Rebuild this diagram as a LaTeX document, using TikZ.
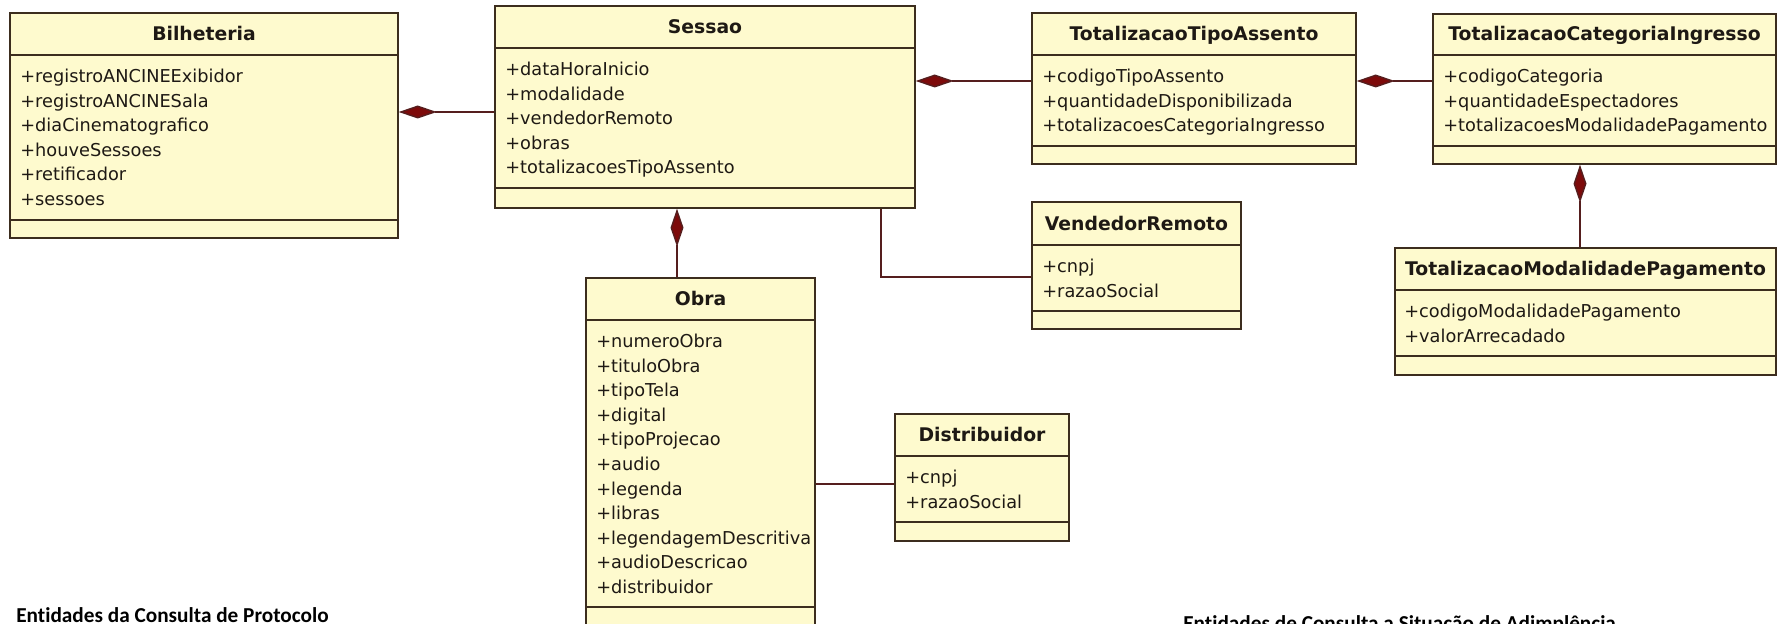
\documentclass[tikz,border=0pt]{standalone}
\usepackage{fontspec}
\setmainfont{DejaVu Sans}
\newfontfamily\capfont[Ligatures=NoCommon]{Carlito}
\usetikzlibrary{arrows.meta,fit}
\definecolor{classfill}{RGB}{254,250,206}
\definecolor{classline}{RGB}{60,45,30}
\definecolor{classtext}{RGB}{30,25,20}
\definecolor{linkline}{RGB}{85,30,30}
\definecolor{diamondred}{RGB}{125,10,10}
\begin{document}
\begin{tikzpicture}[x=0.02cm, y=-0.02cm,
    classbox/.style={draw=classline, fill=classfill, line width=0.8pt, inner sep=0pt},
    classsep/.style={draw=classline, line width=0.8pt},
    classname/.style={anchor=base, inner sep=0pt, font=\fontsize{10.7}{12}\selectfont\bfseries, text=classtext},
    classattr/.style={anchor=base west, inner sep=0pt, font=\fontsize{10.1}{12}\selectfont, text=classtext},
    assoc/.style={draw=linkline, line width=0.8pt},
    comp/.style={assoc, -{Diamond[length=7.6mm, width=2.6mm, fill=diamondred]}},
    caption/.style={anchor=base west, inner sep=0pt, font=\capfont\fontsize{12.1}{14}\selectfont\bfseries, text=black}]
   \useasboundingbox[fill=white] (0,0) rectangle (1778,624);

   % Bilheteria
   \node[classbox, fit={(10,13) (398,238)}] (bil) {};
   \draw[classsep] (bil.west |- 0,55) -- (bil.east |- 0,55);
   \draw[classsep] (bil.west |- 0,220) -- (bil.east |- 0,220);
   \node[classname] (bil-name) at (bil.north |- 0,40.5) {Bilheteria};
   \foreach \a [count=\i from 0] in {registroANCINEExibidor, registroANCINESala, diaCinematografico, houveSessoes, retificador, sessoes}
      \node[classattr] (bil-\i) at (20,{82.5+\i*24.6}) {+\a};

   % Sessao
   \node[classbox, fit={(495,6) (915,208)}] (ses) {};
   \draw[classsep] (ses.west |- 0,48) -- (ses.east |- 0,48);
   \draw[classsep] (ses.west |- 0,188) -- (ses.east |- 0,188);
   \node[classname] (ses-name) at (ses.north |- 0,33.5) {Sessao};
   \foreach \a [count=\i from 0] in {dataHoraInicio, modalidade, vendedorRemoto, obras, totalizacoesTipoAssento}
      \node[classattr] (ses-\i) at (505,{75.5+\i*24.6}) {+\a};

   % TotalizacaoTipoAssento
   \node[classbox, fit={(1032,13) (1356,164)}] (tipo) {};
   \draw[classsep] (tipo.west |- 0,55) -- (tipo.east |- 0,55);
   \draw[classsep] (tipo.west |- 0,146) -- (tipo.east |- 0,146);
   \node[classname] (tipo-name) at (tipo.north |- 0,40.5) {TotalizacaoTipoAssento};
   \foreach \a [count=\i from 0] in {codigoTipoAssento, quantidadeDisponibilizada, totalizacoesCategoriaIngresso}
      \node[classattr] (tipo-\i) at (1042,{82.5+\i*24.6}) {+\a};

   % TotalizacaoCategoriaIngresso
   \node[classbox, fit={(1433,14) (1776,164)}] (cat) {};
   \draw[classsep] (cat.west |- 0,55) -- (cat.east |- 0,55);
   \draw[classsep] (cat.west |- 0,146) -- (cat.east |- 0,146);
   \node[classname] (cat-name) at (cat.north |- 0,40.5) {TotalizacaoCategoriaIngresso};
   \foreach \a [count=\i from 0] in {codigoCategoria, quantidadeEspectadores, totalizacoesModalidadePagamento}
      \node[classattr] (cat-\i) at (1443,{82.5+\i*24.6}) {+\a};

   % TotalizacaoModalidadePagamento
   \node[classbox, fit={(1395,248) (1776,375)}] (mod) {};
   \draw[classsep] (mod.west |- 0,290) -- (mod.east |- 0,290);
   \draw[classsep] (mod.west |- 0,356) -- (mod.east |- 0,356);
   \node[classname] (mod-name) at (mod.north |- 0,275.5) {TotalizacaoModalidadePagamento};
   \foreach \a [count=\i from 0] in {codigoModalidadePagamento, valorArrecadado}
      \node[classattr] (mod-\i) at (1404,{317.5+\i*24.6}) {+\a};

   % VendedorRemoto
   \node[classbox, fit={(1032,202) (1241,329)}] (vend) {};
   \draw[classsep] (vend.west |- 0,245) -- (vend.east |- 0,245);
   \draw[classsep] (vend.west |- 0,311) -- (vend.east |- 0,311);
   \node[classname] (vend-name) at (vend.north |- 0,230.5) {VendedorRemoto};
   \foreach \a [count=\i from 0] in {cnpj, razaoSocial}
      \node[classattr] (vend-\i) at (1042,{272.5+\i*24.6}) {+\a};

   % Obra
   \node[classbox, fit={(586,278) (815,640)}] (obra) {};
   \draw[classsep] (obra.west |- 0,320) -- (obra.east |- 0,320);
   \draw[classsep] (obra.west |- 0,607) -- (obra.east |- 0,607);
   \node[classname] (obra-name) at (obra.north |- 0,305.5) {Obra};
   \foreach \a [count=\i from 0] in {numeroObra, tituloObra, tipoTela, digital, tipoProjecao, audio, legenda, libras, legendagemDescritiva, audioDescricao, distribuidor}
      \node[classattr] (obra-\i) at (596,{347.5+\i*24.6}) {+\a};

   % Distribuidor
   \node[classbox, fit={(895,414) (1069,541)}] (dist) {};
   \draw[classsep] (dist.west |- 0,456) -- (dist.east |- 0,456);
   \draw[classsep] (dist.west |- 0,522) -- (dist.east |- 0,522);
   \node[classname] (dist-name) at (dist.north |- 0,441.5) {Distribuidor};
   \foreach \a [count=\i from 0] in {cnpj, razaoSocial}
      \node[classattr] (dist-\i) at (905,{483.5+\i*24.6}) {+\a};

   % ligacoes
   \draw[comp] (ses.west |- 0,112) -- (bil.east |- 0,112);
   \draw[comp] (tipo.west |- 0,81) -- (ses.east |- 0,81);
   \draw[comp] (cat.west |- 0,81) -- (tipo.east |- 0,81);
   \draw[comp] (mod.north -| 1580,0) -- (cat.south -| 1580,0);
   \draw[comp] (obra.north -| 677,0) -- (ses.south -| 677,0);
   \draw[assoc] (ses.south -| 881,0) |- (vend.west |- 0,277);
   \draw[assoc] (obra.east |- 0,484) -- (dist.west |- 0,484);

   \node[caption] (cap-protocolo) at (16,622) {Entidades da Consulta de Protocolo};
   \node[caption] (cap-adimplencia) at (1183,630) {Entidades de Consulta a Situação de Adimplência};
\end{tikzpicture}
\end{document}
